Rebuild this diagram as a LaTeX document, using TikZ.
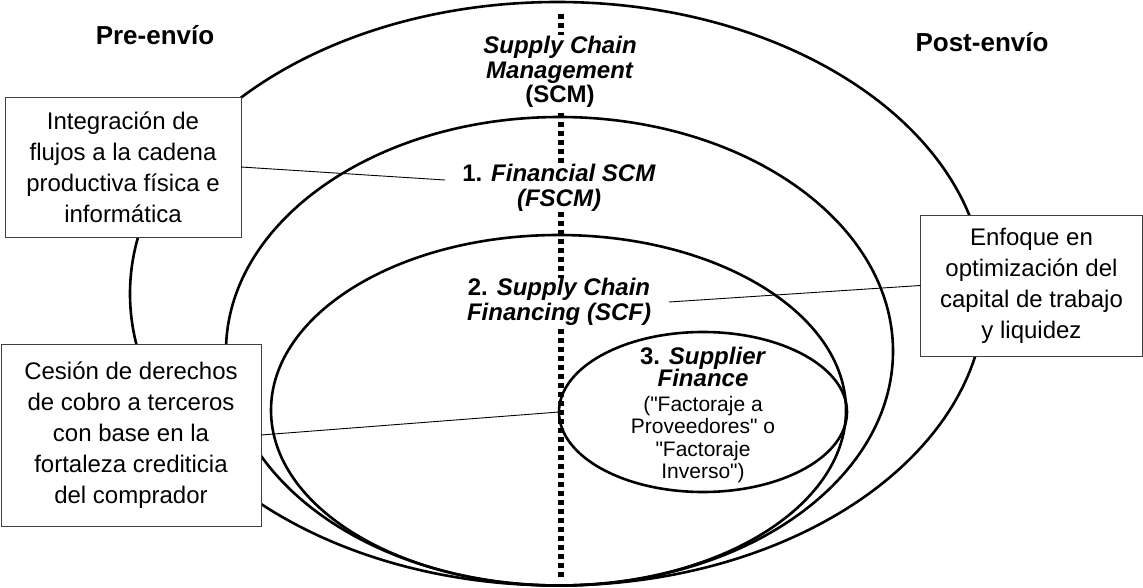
\documentclass[tikz,border=0pt]{standalone}
\usepackage{fontspec}
\setmainfont{Liberation Sans}
\usetikzlibrary{shapes.geometric}
\begin{document}
\begin{tikzpicture}[x=1pt,y=-1pt,
  ring/.style={draw, ellipse, line width=2.6pt, inner sep=0pt, outer sep=0pt},
  notebox/.style={draw=black!75, line width=0.9pt, fill=white, align=center,
    inner sep=0pt, outer sep=0pt, font=\fontsize{24}{31}\selectfont},
  header/.style={font=\fontsize{26}{30}\selectfont\bfseries, anchor=base, inner sep=0pt},
  title/.style={fill=white, align=center, inner sep=1pt,
    font=\fontsize{24}{24.5}\selectfont\bfseries},
  leader/.style={line width=0.9pt},
  divider/.style={line width=5.5pt, dash pattern=on 5pt off 4pt}
]
\useasboundingbox (0,0) rectangle (1143,588);

% nested scopes of supply chain finance
\node[ring, minimum width=855pt, minimum height=583.5pt] (scm) at (557.5,293.75) {};
\node[ring, minimum width=667pt, minimum height=468.5pt] (fscm) at (559.5,351.25) {};
\node[ring, minimum width=575pt, minimum height=350.5pt] (scf) at (558.5,410.25) {};
\node[ring, minimum width=288pt, minimum height=160pt] (e3) at (703,412) {};

% pre-/post-shipment divider
\coordinate (divtop) at (561,14);
\coordinate (divbot) at (561,580);
\draw[divider] (divtop) -- (divbot);

% headings
\node[header] (pre) at (155,45) {Pre-envío};
\node[header] (post) at (982,52) {Post-envío};

% scope labels
\node[title] (tscm) at (560,72) {\textit{Supply Chain}\\\textit{Management}\\(SCM)};
\node[title] (tfscm) at (559,188) {1. \textit{Financial SCM}\\\textit{(FSCM)}};
\node[title] (tscf) at (559,302) {2. \textit{Supply Chain}\\\textit{Financing (SCF)}};
\node[align=center, inner sep=0pt, font=\fontsize{21}{22.5}\selectfont] (tsf) at (703,415)
  {{\fontsize{24}{22}\selectfont\bfseries 3. \textit{Supplier}}\\
   {\fontsize{24}{22}\selectfont\bfseries\itshape Finance}\\[2pt]
   (\textquotedbl Factoraje a\\Proveedores\textquotedbl{} o\\\textquotedbl Factoraje\\Inverso\textquotedbl)};

% explanatory boxes
\node[notebox, minimum width=236pt, minimum height=140pt] (b1) at (123,167)
  {Integración de\\flujos a la cadena\\productiva física e\\informática};
\node[notebox, minimum width=260pt, minimum height=182pt] (b2) at (131,435)
  {Cesión de derechos\\de cobro a terceros\\con base en la\\fortaleza crediticia\\del comprador};
\node[notebox, minimum width=222pt, minimum height=141pt] (b3) at (1031.5,285.5)
  {Enfoque en\\optimización del\\capital de trabajo\\y liquidez};

% leader lines
\coordinate (a1) at (445,180);
\coordinate (a3) at (669,302);
\draw[leader] (b1.east) -- (a1);
\draw[leader] (b3.west) -- (a3);
\draw[leader] (b2.east) -- (e3.west);
\end{tikzpicture}
\end{document}
